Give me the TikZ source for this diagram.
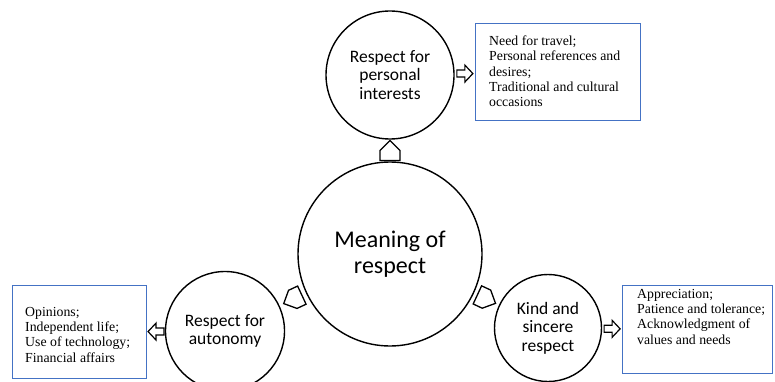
\documentclass[tikz,border=0pt]{standalone}
\usepackage{fontspec}
\setmainfont{Liberation Serif}
\newfontfamily\calib{Carlito}
\usetikzlibrary{calc}
\definecolor{boxblue}{RGB}{68,114,196}
\begin{document}
\begin{tikzpicture}[x=1pt,y=-1pt,
  bubble/.style={circle,draw=black,line width=1.4pt,inner sep=0pt,align=center,font=\calib\fontsize{17.5}{18.5}\selectfont},
  infobox/.style={rectangle,draw=boxblue,line width=1.3pt,inner sep=0pt,anchor=north west},
  infotext/.style={anchor=north west,inner sep=0pt,align=left,font=\fontsize{13.8}{15.3}\selectfont},
  house/.pic={\draw[line width=1.3pt,fill=white,line join=miter] (-10,-10)--(0,-10)--(10,0)--(0,10)--(-10,10)--cycle;},
  blockarrow/.pic={\draw[line width=1.2pt,fill=white] (-8,-3.5)--(0,-3.5)--(0,-8.5)--(8,0)--(0,8.5)--(0,3.5)--(-8,3.5)--cycle;}
]
\useasboundingbox (0,0) rectangle (775,382);

\node[bubble,minimum size=184pt,font=\calib\fontsize{24}{26.5}\selectfont] (mean) at (390,254) {Meaning of\\respect};
\node[bubble,minimum size=128pt] (pers) at (390,75) {Respect for\\personal\\interests};
\node[bubble,minimum size=119pt] (auto) at (225,331) {Respect for\\autonomy};
\node[bubble,minimum size=107pt] (kind) at (548,328) {Kind and\\sincere\\respect};

\node[infobox,minimum width=165pt,minimum height=97pt] (pbox) at (475,23) {};
\node[infobox,minimum width=134pt,minimum height=93pt] (abox) at (12,285) {};
\node[infobox,minimum width=150pt,minimum height=88pt] (kbox) at (622,285) {};

\node[infotext] (ptext) at ($(pbox.north west)+(14,12.5)$) {Need for travel;\\Personal references and\\desires;\\Traditional and cultural\\occasions};
\node[infotext] (atext) at ($(abox.north west)+(13,22)$) {Opinions;\\Independent life;\\Use of technology;\\Financial affairs};
\node[infotext] (ktext) at ($(kbox.north west)+(15,4)$) {Appreciation;\\Patience and tolerance;\\Acknowledgment of\\values and needs};

\pic[rotate=90] at ($(mean.north)!0.5!(pers.south)$) {house};
\pic[rotate=205] at ($(mean.205)!0.5!(auto.25)$) {house};
\pic[rotate=-25] at ($(mean.-25)!0.5!(kind.155)$) {house};

\pic at ($(pers.east)!0.5!(pbox.west)$) {blockarrow};
\pic[rotate=180] at ($(auto.west)!0.5!(abox.east)$) {blockarrow};
\pic at ($(kind.east)!0.5!(kbox.west)$) {blockarrow};
\end{tikzpicture}
\end{document}
